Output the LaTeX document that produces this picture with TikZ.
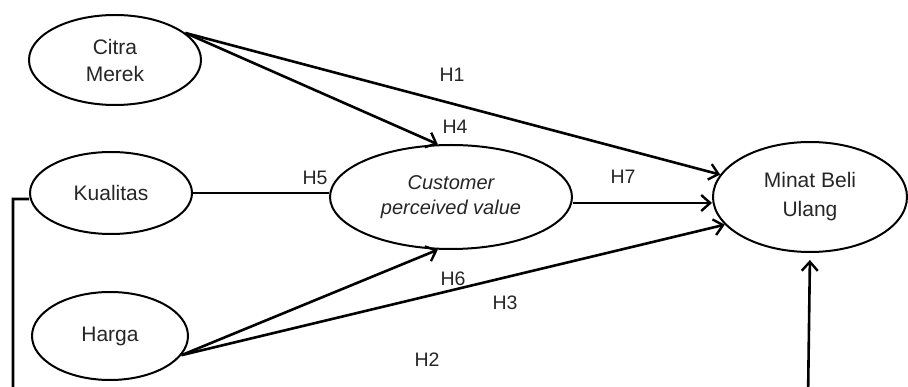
\documentclass[tikz,border=0pt]{standalone}
\usepackage{fontspec}
\setmainfont{Liberation Sans}
\usetikzlibrary{shapes.geometric,arrows.meta}
\begin{document}
\begin{tikzpicture}[x=1pt,y=-1pt,
  var/.style={ellipse,draw=black,line width=2pt,inner sep=0pt,align=center,
    text=black!85,font=\fontsize{21}{27}\selectfont},
  conn/.style={line width=2.6pt,draw=black},
  arr/.style={conn,-{Straight Barb[length=9pt,width=16pt,line width=2.4pt]}},
  hlab/.style={text=black!85,font=\fontsize{19.5}{22}\selectfont,inner sep=0pt}]
\useasboundingbox (0,0) rectangle (908,387);
\clip (0,0) rectangle (908,387);
\fill[white] (0,0) rectangle (908,387);
% nodes
\node[var,minimum width=172pt,minimum height=90pt] (citra) at (115,60) {Citra\\Merek};
\node[var,minimum width=162pt,minimum height=82pt] (kual) at (111,193) {Kualitas};
\node[var,minimum width=156pt,minimum height=88pt] (harga) at (110,336) {Harga};
\node[var,minimum width=242pt,minimum height=104pt,font=\itshape\fontsize{20}{25}\selectfont] (cpv) at (451,197) {Customer\\perceived value};
\node[var,minimum width=194pt,minimum height=110pt,font=\fontsize{21}{29}\selectfont] (minat) at (810,197) {Minat Beli\\Ulang};
% bottom corners of the loop
\coordinate (bl) at (13,400);
\coordinate (br) at (808,400);
% connectors
\draw[arr] (citra.21) -- (minat.166);
\draw[arr] (citra.21) -- (cpv.104);
\draw[conn] (kual.east) -- (cpv.west |- kual.east);
\draw[arr] ([yshift=-6pt]cpv.east) -- ([yshift=-6pt]minat.west);
\draw[arr] (harga.-15) -- (cpv.-104);
\draw[arr] (harga.-15) -- (minat.-162);
\draw[arr,shorten >=7pt] ([yshift=-6pt]kual.west) -| (bl) -- (br) -- (minat.south);
% labels
\node[hlab] (h1) at (452,75) {H1};
\node[hlab] (h4) at (455,127) {H4};
\node[hlab] (h5) at (315,178) {H5};
\node[hlab] (h7) at (623,177) {H7};
\node[hlab] (h6) at (453,279) {H6};
\node[hlab] (h3) at (505,303) {H3};
\node[hlab] (h2) at (427,360) {H2};
\end{tikzpicture}
\end{document}
